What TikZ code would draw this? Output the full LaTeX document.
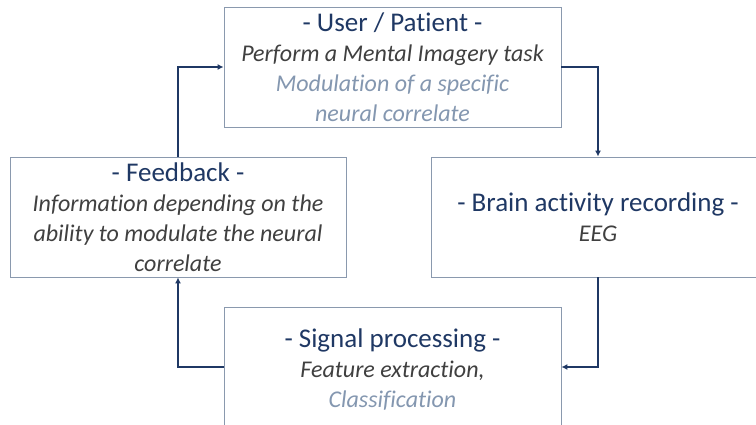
\documentclass[tikz,border=0pt]{standalone}
\usepackage{fontspec}
\setmainfont{Carlito}[Ligatures=NoCommon]
\usetikzlibrary{arrows.meta}
\definecolor{navy}{HTML}{1F3864}
\definecolor{darkgray}{HTML}{404040}
\definecolor{paleblue}{HTML}{8497B0}
\definecolor{boxline}{HTML}{8A99AE}
\newcommand{\boxtitle}[1]{{\fontsize{27}{30}\selectfont\color{navy}#1}}
\newcommand{\boxtask}[1]{{\itshape\color{darkgray}#1}}
\newcommand{\boxhint}[1]{{\itshape\color{paleblue}#1}}

\begin{document}
\begin{tikzpicture}[x=1pt, y=-1pt, stage/.style={draw=boxline, line width=0.9pt, fill=white, minimum height=120pt, inner sep=0pt, align=center, font=\fontsize{24}{30}\selectfont}, flow/.style={draw=navy, line width=1.2pt, -{Latex[length=6pt,width=6pt]}}]
	\useasboundingbox (0,0) rectangle (756,425);
	\node[stage, minimum width=337pt] (user) at (392.5,67) {\boxtitle{- User / Patient -}\\ \boxtask{Perform a Mental Imagery task}\\ \boxhint{Modulation of a specific}\\ \boxhint{neural correlate}};
	\node[stage, minimum width=334pt] (recording) at (598,217) {\boxtitle{- Brain activity recording -}\\ \boxtask{EEG}};
	% bottom box runs past the lower edge
	\node[stage, minimum width=337pt, minimum height=126pt] (processing) at (392.5,370) {\boxtitle{- Signal processing -}\\ \boxtask{Feature extraction,}\\ \boxhint{Classification}};
	\node[stage, minimum width=336pt] (feedback) at (178,217) {\boxtitle{- Feedback -}\\ \boxtask{Information depending on the}\\ \boxtask{ability to modulate the neural}\\ \boxtask{correlate}};
	\draw[flow] (user.east) -| (recording.north);
	\draw[flow] (recording.south) |- ([yshift=3pt]processing.east);
	\draw[flow] ([yshift=3pt]processing.west) -| (feedback.south);
	\draw[flow] (feedback.north) |- (user.west);
\end{tikzpicture}
\end{document}
